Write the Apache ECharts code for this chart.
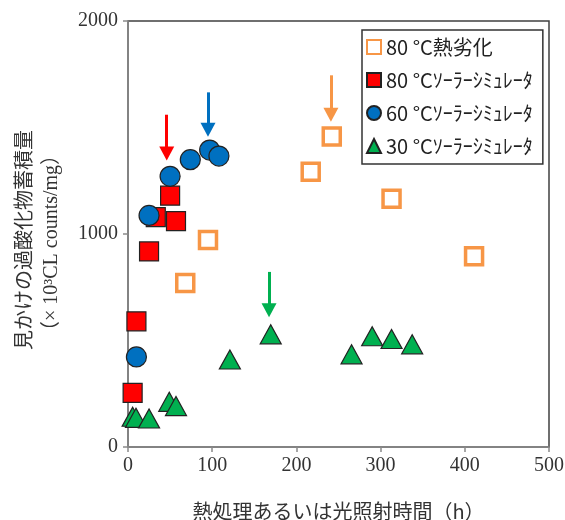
<!DOCTYPE html>
<html>
<head>
<meta charset="utf-8">
<script src="https://cdn.jsdelivr.net/npm/echarts@6/dist/echarts.min.js"></script>
<style>html,body{margin:0;padding:0;background:#fff}#c{width:565px;height:520px}</style>
</head>
<body>
<div id="c"></div>
<script>
// ---- data ----
var seriesNames = ['80 °C熱劣化', '80 °Cｿｰﾗｰｼﾐｭﾚｰﾀ', '60 °Cｿｰﾗｰｼﾐｭﾚｰﾀ', '30 °Cｿｰﾗｰｼﾐｭﾚｰﾀ'];
var heat80 = [[68, 770], [95, 972], [217, 1292], [242, 1458], [313, 1166], [411, 895]];
var solar80 = [[5.5, 254], [10, 590], [25, 918], [33, 1079], [57, 1060], [50, 1180]];
var solar60 = [[10, 423], [25, 1087], [50, 1271], [74, 1349], [97, 1394], [108, 1366]];
var solar30 = [[5.5, 142], [9.5, 137], [25, 134], [49, 212], [57, 192], [121, 411], [169.5, 529], [265.5, 435], [290, 520], [313, 507], [337.5, 482]];
// arrows: [x, yStart, yEnd]
var arrowHeat80 = [241, 1745, 1560];
var arrowSolar80 = [46, 1560, 1378];
var arrowSolar60 = [95, 1665, 1490];
var arrowSolar30 = [167.5, 822, 642];
var xTicks = [0, 100, 200, 300, 400, 500];
var yTicks = [0, 1000, 2000];
var xTitle = '熱処理あるいは光照射時間（h）';
var yTitle1 = '見かけの過酸化物蓄積量';
var yTitle2 = '（× 10³CL counts/mg）';

var colors = ['#F79646', '#FF0000', '#0070C0', '#00B050'];

function arrow(a, color) {
  return {
    silent: true,
    symbol: ['none', 'triangle'],
    symbolSize: [15, 14],
    label: {show: false},
    lineStyle: {color: color, width: 3, type: 'solid'},
    itemStyle: {color: color},
    emphasis: {disabled: true},
    data: [[{coord: [a[0], a[1]]}, {coord: [a[0], a[2]]}]]
  };
}

var chart = echarts.init(document.getElementById('c'), null, {renderer: 'canvas'});
var serif = 'Liberation Serif';
var jp = 'Noto Sans CJK JP';

chart.setOption({
  animation: false,
  grid: {left: 128, right: 16, top: 21, bottom: 73, outerBoundsMode: 'none', containLabel: false, show: true, borderColor: '#404040', borderWidth: 1.5, backgroundColor: 'transparent'},
  legend: {
    orient: 'vertical',
    left: 362, top: 30,
    data: seriesNames,
    itemWidth: 14, itemHeight: 14,
    itemGap: 13,
    padding: [7, 10, 8, 4],
    borderColor: '#333', borderWidth: 1.5,
    backgroundColor: '#fff',
    textStyle: {fontFamily: jp, fontSize: 20, color: '#222', lineHeight: 20}
  },
  xAxis: {
    type: 'value', min: xTicks[0], max: xTicks[xTicks.length - 1], interval: 100,
    splitLine: {show: false},
    axisLine: {onZero: false, lineStyle: {color: '#8a8a8a', width: 1.5}},
    axisTick: {show: true, inside: false, length: 5, lineStyle: {color: '#8a8a8a', width: 1.5}},
    axisLabel: {fontFamily: serif, fontSize: 20, color: '#333', margin: 9, formatter: function (v) { return String(v); }},
    name: xTitle, nameLocation: 'middle', nameGap: 54,
    nameTextStyle: {fontFamily: jp, fontSize: 20, color: '#333'}
  },
  yAxis: {
    type: 'value', min: yTicks[0], max: yTicks[yTicks.length - 1], interval: 1000,
    splitLine: {show: false},
    axisLine: {onZero: false, lineStyle: {color: '#8a8a8a', width: 1.5}},
    axisTick: {show: true, inside: false, length: 5, lineStyle: {color: '#8a8a8a', width: 1.5}},
    axisLabel: {fontFamily: serif, fontSize: 20, color: '#333', margin: 10, formatter: function (v) { return String(v); }}
  },
  graphic: [
    {type: 'text', x: 23, y: 240, rotation: Math.PI / 2, style: {text: yTitle1, font: '20px "Noto Sans CJK JP"', fill: '#333', textAlign: 'center', textVerticalAlign: 'middle'}},
    {type: 'text', x: 52, y: 243, rotation: Math.PI / 2, style: {text: yTitle2, font: '20px "Liberation Serif", "Noto Sans CJK JP"', fill: '#333', textAlign: 'center', textVerticalAlign: 'middle'}}
  ],
  series: [
    {name: seriesNames[0], type: 'scatter', data: heat80, symbol: 'rect', symbolSize: 17,
     itemStyle: {color: '#fff', borderColor: colors[0], borderWidth: 3.5, opacity: 1},
     markLine: arrow(arrowHeat80, colors[0])},
    {name: seriesNames[1], type: 'scatter', data: solar80, symbol: 'rect', symbolSize: 19,
     itemStyle: {color: colors[1], borderColor: '#222', borderWidth: 1.2, opacity: 1},
     markLine: arrow(arrowSolar80, colors[1])},
    {name: seriesNames[2], type: 'scatter', data: solar60, symbol: 'circle', symbolSize: 20,
     itemStyle: {color: colors[2], borderColor: '#222', borderWidth: 1.2, opacity: 1},
     markLine: arrow(arrowSolar60, colors[2])},
    {name: seriesNames[3], type: 'scatter', data: solar30, symbol: 'triangle', symbolSize: [21, 19],
     itemStyle: {color: colors[3], borderColor: '#222', borderWidth: 1.2, opacity: 1},
     markLine: arrow(arrowSolar30, colors[3])}
  ]
});
</script>
</body>
</html>
